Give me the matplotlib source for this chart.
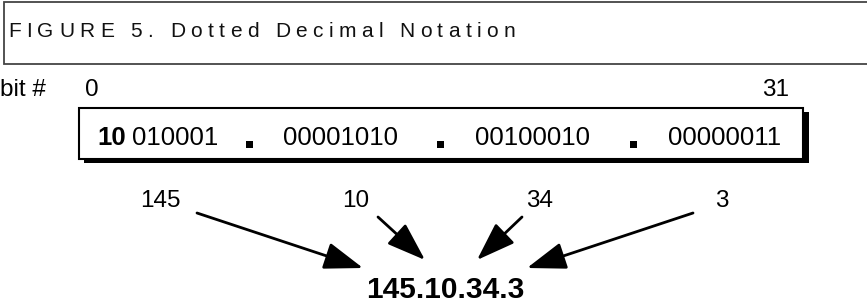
import matplotlib
matplotlib.use("Agg")
import matplotlib.pyplot as plt
from matplotlib.patches import Rectangle
from matplotlib.textpath import TextToPath
from matplotlib.font_manager import FontProperties

# data
title = "FIGURE 5. Dotted Decimal Notation"
octets = [145, 10, 34, 3]
network_bits = "10"          # leading class bits, shown bold
bit_labels = ["0", "31"]
dotted = ".".join(str(o) for o in octets)

# layout (pixels, y grows downwards)
W, H = 867, 306
seg_x = [150, 341, 532, 725]
dot_x = [249, 440, 633]
label_x = [160, 356, 540, 722]
arrow_start = [(197, 213), (378, 217), (522, 217), (693, 213)]
arrow_end = [(363, 268), (425, 260), (477, 260), (527, 268)]

fam = ["Liberation Sans", "DejaVu Sans"]
fs = 17.5
fs_box = 18.5

fig = plt.figure(figsize=(W / 100, H / 100), dpi=100)
ax = fig.add_axes([0, 0, 1, 1])
ax.set_xlim(0, W)
ax.set_ylim(H, 0)
ax.axis("off")

# title frame, open on the right
ax.plot([W + 5, 4, 4, W + 5], [2, 2, 64, 64], color="#444444", lw=1.3,
        solid_joinstyle="miter", clip_on=False)

# title with wide letter spacing, placed char by char
tp = TextToPath()
fp = FontProperties(family=["Liberation Sans Narrow", "Liberation Sans"], size=15)
px = 100 / 72
def adv(s):
    if not s:
        return 0.0
    w, h, d = tp.get_text_width_height_descent(s.replace(" ", "\u00a0"), fp, ismath=False)
    return w * px
natural = adv(title)
target = 507
track = (target - natural) / (len(title) - 1)
for i, ch in enumerate(title):
    ax.text(8 + adv(title[:i]) + i * track, 37, ch, fontproperties=fp,
            color="#111111", va="baseline", ha="left")

# bit numbering
ax.text(0, 96, "bit #", fontsize=fs, family=fam, va="baseline", ha="left")
ax.text(92, 96, bit_labels[0], fontsize=fs, family=fam, va="baseline", ha="center")
ax.text(776, 96, bit_labels[1], fontsize=fs, family=fam, va="baseline", ha="center")

# 32-bit box with drop shadow
ax.add_patch(Rectangle((84, 112), 725, 51, facecolor="black", edgecolor="none", zorder=1))
ax.add_patch(Rectangle((79, 108), 724, 51, facecolor="white", edgecolor="black",
                       lw=1.5, zorder=2))

bins = [format(o, "08b") for o in octets]
ax.text(97, 145, network_bits, fontsize=fs_box, family=fam, weight="bold",
        va="baseline", ha="left", zorder=3)
ax.text(97 + 35, 145, bins[0][len(network_bits):], fontsize=fs_box, family=fam,
        va="baseline", ha="left", zorder=3)
for x, b in zip(seg_x[1:], bins[1:]):
    ax.text(x, 145, b, fontsize=fs_box, family=fam, va="baseline", ha="center", zorder=3)
for x in dot_x:
    ax.add_patch(Rectangle((x - 3.5, 141), 7, 7, facecolor="black", edgecolor="none", zorder=3))

# decimal values and arrows
for x, o in zip(label_x, octets):
    ax.text(x, 207, str(o), fontsize=fs, family=fam, va="baseline", ha="center")
for s, e in zip(arrow_start, arrow_end):
    ax.annotate("", xy=e, xytext=s,
                arrowprops=dict(arrowstyle="-|>,head_length=1.2,head_width=0.42",
                                mutation_scale=20, lw=2, color="black",
                                shrinkA=0, shrinkB=0))

ax.text(445, 298, dotted, fontsize=21.5, family=fam, weight="bold",
        va="baseline", ha="center")

fig.savefig("out.png", dpi=100)
